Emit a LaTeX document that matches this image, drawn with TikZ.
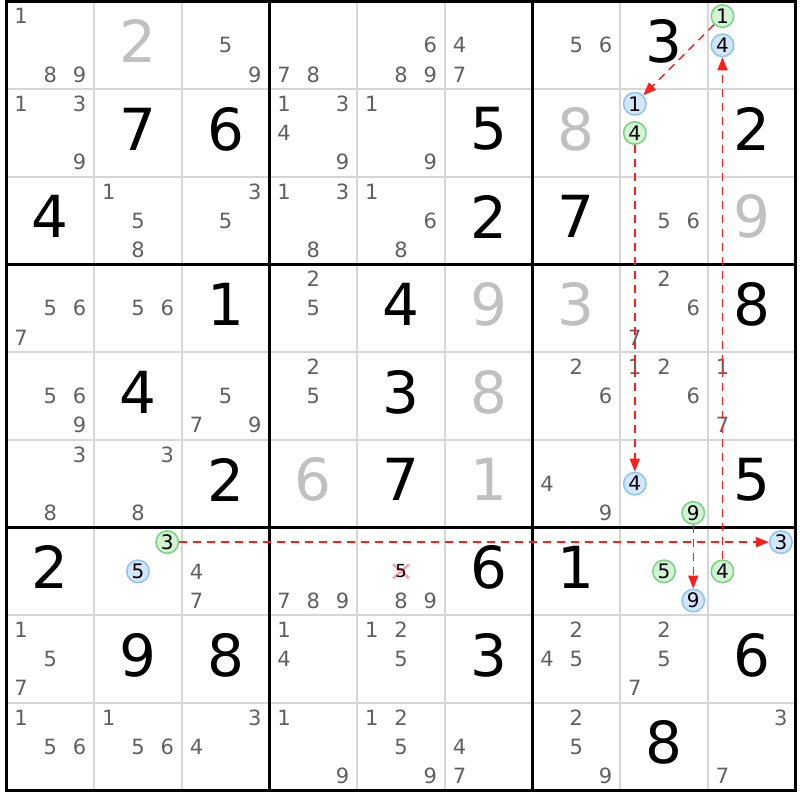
\documentclass[tikz,border=0pt]{standalone}
\usepackage{fontspec}
\setmainfont{DejaVu Sans}
\usetikzlibrary{arrows.meta}
\definecolor{candgray}{RGB}{96,96,96}
\definecolor{solvedgray}{RGB}{192,192,192}
\definecolor{linegray}{RGB}{214,214,214}
\definecolor{grnfill}{RGB}{212,242,212}
\definecolor{grnline}{RGB}{120,210,130}
\definecolor{blufill}{RGB}{212,230,252}
\definecolor{bluline}{RGB}{140,195,245}
\definecolor{linkred}{RGB}{255,30,30}
\definecolor{crosspink}{RGB}{250,160,175}
\tikzset{
    cand/.style={font=\fontsize{21}{21}\selectfont,text=candgray,inner sep=0pt},
    given/.style={font=\fontsize{58}{58}\selectfont,text=black,inner sep=0pt,yshift=4pt},
    solved/.style={given,text=solvedgray},
    grn/.style={circle,draw=grnline,fill=grnfill,line width=1.5pt,minimum size=22.5pt,inner sep=0pt,font=\fontsize{20}{20}\selectfont},
    blu/.style={grn,draw=bluline,fill=blufill},
    link/.style={draw=linkred,line width=1.5pt,dash pattern=on 8pt off 6pt,-{Triangle[length=13pt,width=10pt]}},
}

\begin{document}
\begin{tikzpicture}[x=87.67pt,y=-87.67pt]
    \useasboundingbox (-6.5pt,1.5pt) rectangle (793.5pt,-798.5pt);
    \foreach\i in{0,...,9}\draw[linegray,line width=1.8pt](\i,0)--(\i,9) (0,\i)--(9,\i);%細線
    \foreach\i in{0,3,6,9}\draw[black,line width=3.5pt,line cap=rect](\i,0)--(\i,9) (0,\i)--(9,\i);%太線

    % 確定数字
    \foreach\r/\c/\d in{1/8/3,2/2/7,2/3/6,2/6/5,2/9/2,3/1/4,3/6/2,3/7/7,4/3/1,4/5/4,4/9/8,
        5/2/4,5/5/3,6/3/2,6/5/7,6/9/5,7/1/2,7/6/6,7/7/1,8/2/9,8/3/8,8/6/3,8/9/6,9/8/8}
        \node[given](b\r\c)at(\c-0.5,\r-0.5){\d};
    \foreach\r/\c/\d in{1/2/2,2/7/8,3/9/9,4/6/9,4/7/3,5/6/8,6/4/6,6/6/1}
        \node[solved](b\r\c)at(\c-0.5,\r-0.5){\d};

    % 候補数字
    \foreach\r/\c/\ds in{1/1/{1,8,9},1/3/{5,9},1/4/{7,8},1/5/{6,8,9},1/6/{4,7},1/7/{5,6},
        2/1/{1,3,9},2/4/{1,3,4,9},2/5/{1,9},
        3/2/{1,5,8},3/3/{3,5},3/4/{1,3,8},3/5/{1,6,8},3/8/{5,6},
        4/1/{5,6,7},4/2/{5,6},4/4/{2,5},4/8/{2,6,7},
        5/1/{5,6,9},5/3/{5,7,9},5/4/{2,5},5/7/{2,6},5/8/{1,2,6},5/9/{1,7},
        6/1/{3,8},6/2/{3,8},6/7/{4,9},
        7/3/{4,7},7/4/{7,8,9},7/5/{8,9},
        8/1/{1,5,7},8/4/{1,4},8/5/{1,2,5},8/7/{2,4,5},8/8/{2,5,7},
        9/1/{1,5,6},9/2/{1,5,6},9/3/{3,4},9/4/{1,9},9/5/{1,2,5,9},9/6/{4,7},9/7/{2,5,9},9/9/{3,7}}
        \foreach\d in\ds{
            \pgfmathtruncatemacro\cx{mod(\d-1,3)}
            \pgfmathtruncatemacro\cy{div(\d-1,3)}
            \node[cand](n\r\c\d)at({\c-1+(\cx+0.5)/3},{\r-1+(\cy+0.5)/3}){\d};
        }

    % 消去される候補
    \coordinate(x755)at(4.5,6.5);
    \draw[crosspink,line width=2.5pt]([shift={(-8pt,-7pt)}]x755)--([shift={(8pt,7pt)}]x755)
        ([shift={(-8pt,7pt)}]x755)--([shift={(8pt,-7pt)}]x755);
    \node[cand,text=black,font=\fontsize{18}{18}\selectfont](n755)at(x755){5};

    % 丸印の候補
    \foreach\r/\c/\d/\s in{1/9/1/grn,1/9/4/blu,2/8/1/blu,2/8/4/grn,6/8/4/blu,6/8/9/grn,
        7/2/3/grn,7/2/5/blu,7/8/5/grn,7/8/9/blu,7/9/3/blu,7/9/4/grn}{
        \pgfmathtruncatemacro\cx{mod(\d-1,3)}
        \pgfmathtruncatemacro\cy{div(\d-1,3)}
        \node[\s](p\r\c\d)at({\c-1+(\cx+0.5)/3},{\r-1+(\cy+0.5)/3}){\d};
    }

    % リンク
    \draw[link](p191)--(p281);
    \draw[link](p284)--(p684);
    \draw[link](p689)--(p789);
    \draw[link](p794)--(p194);
    \draw[link](p723)--(p793);
\end{tikzpicture}
\end{document}
